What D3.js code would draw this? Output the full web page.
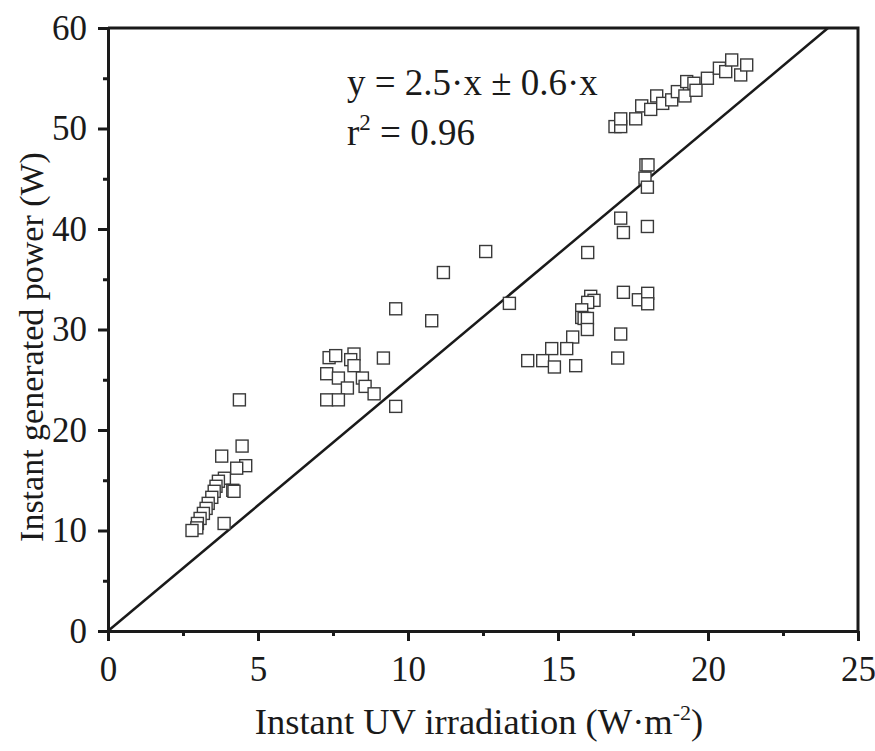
<!DOCTYPE html>
<html>
<head>
<meta charset="utf-8">
<script src="https://cdn.jsdelivr.net/npm/d3@7"></script>
<style>
  body { margin: 0; background: #fff; }
  svg { display: block; font-family: "Liberation Serif", "Times New Roman", serif; }
</style>
</head>
<body>
<div id="chart"></div>
<script>
// UV irradiation (W/m2) vs generated power (W)
const uvX = [
  4.38, 4.47, 3.79, 4.59, 4.29, 3.88, 3.68, 3.6, 4.16, 4.2, 3.54, 3.46, 3.34, 3.27, 3.18, 3.07, 2.98, 2.96, 2.8, 3.87,
  12.59, 11.18, 9.59, 10.79, 7.37, 7.59, 8.2, 8.09, 8.2, 9.18, 7.29, 7.68, 8.48, 7.98, 8.57, 8.87, 7.29, 7.68, 9.59,
  13.38, 15.99, 16.09, 16.2, 15.99, 15.79, 15.79, 15.87, 15.98, 15.98, 17.18, 17.68, 17.99, 17.99, 17.09, 15.49, 14.79, 15.29, 13.99, 14.49, 14.88, 15.59, 16.99,
  17.93, 18.0, 17.9, 17.98, 17.09, 17.18, 17.98,
  16.9, 17.09, 17.09, 17.59, 17.79, 18.09, 18.29, 18.49, 18.79, 18.98, 19.23, 19.29, 19.53, 19.6, 19.98, 20.38, 20.59, 20.79, 21.09, 21.29
];
const powerY = [
  23.0, 18.4, 17.4, 16.45, 16.2, 15.2, 14.9, 14.4, 14.0, 13.9, 13.9, 13.3, 12.7, 12.2, 11.7, 11.2, 10.7, 10.26, 10.0, 10.7,
  37.76, 35.67, 32.06, 30.87, 27.2, 27.4, 27.56, 27.0, 26.4, 27.16, 25.6, 25.17, 25.17, 24.18, 24.34, 23.6, 23.0, 23.0, 22.35,
  32.6, 37.66, 33.3, 32.9, 32.7, 31.96, 31.2, 31.1, 31.1, 30.0, 33.7, 32.96, 33.6, 32.56, 29.55, 29.25, 28.1, 28.1, 26.9, 26.9, 26.27, 26.4, 27.16,
  46.38, 46.38, 45.06, 44.16, 41.08, 39.65, 40.25,
  50.19, 50.19, 50.96, 50.96, 52.25, 51.9, 53.24, 52.5, 52.85, 53.67, 53.24, 54.67, 54.5, 53.8, 55.0, 56.0, 55.66, 56.82, 55.33, 56.32
];
const xTicks = [0, 5, 10, 15, 20, 25];
const xMinor = [2.5, 7.5, 12.5, 17.5, 22.5];
const yTicks = [0, 10, 20, 30, 40, 50, 60];
const yMinor = [5, 15, 25, 35, 45, 55];
const fitSlope = 2.5;

const width = 875, height = 751;
const margin = { top: 28, right: 17, bottom: 120, left: 108 };
const fs = 34;

const svg = d3.select("#chart").append("svg")
  .attr("width", width)
  .attr("height", height);

const x = d3.scaleLinear().domain([0, 25]).range([margin.left, width - margin.right]);
const y = d3.scaleLinear().domain([0, 60]).range([height - margin.bottom, margin.top]);

// frame top + right
svg.append("path")
  .attr("d", `M${x(0)},${y(60)}H${x(25)}V${y(0)}`)
  .attr("fill", "none")
  .attr("stroke", "#1a1a1a")
  .attr("stroke-width", 3);

// fit line y = 2.5x, clipped at top
svg.append("line")
  .attr("x1", x(0)).attr("y1", y(0))
  .attr("x2", x(60 / fitSlope)).attr("y2", y(60))
  .attr("stroke", "#1a1a1a")
  .attr("stroke-width", 2.5);

// points
svg.append("g")
  .selectAll("rect")
  .data(uvX.map((v, i) => [v, powerY[i]]))
  .join("rect")
  .attr("x", d => x(d[0]) - 6)
  .attr("y", d => y(d[1]) - 6)
  .attr("width", 12)
  .attr("height", 12)
  .attr("fill", "#fff")
  .attr("stroke", "#3a3a3a")
  .attr("stroke-width", 1.4);

// axes
svg.append("g")
  .attr("transform", `translate(0,${y(0)})`)
  .call(d3.axisBottom(x).tickValues(xTicks).tickSize(10).tickSizeOuter(0).tickPadding(15));
svg.append("g")
  .attr("transform", `translate(0,${y(0)})`)
  .call(d3.axisBottom(x).tickValues(xMinor).tickSize(5).tickSizeOuter(0).tickFormat(""));

svg.append("g")
  .attr("transform", `translate(${x(0)},0)`)
  .call(d3.axisLeft(y).tickValues(yTicks).tickSize(10).tickSizeOuter(0).tickPadding(11));
svg.append("g")
  .attr("transform", `translate(${x(0)},0)`)
  .call(d3.axisLeft(y).tickValues(yMinor).tickSize(5).tickSizeOuter(0).tickFormat(""));

svg.selectAll(".domain").attr("stroke", "#1a1a1a").attr("stroke-width", 3);
svg.selectAll(".tick line").attr("stroke", "#1a1a1a").attr("stroke-width", 3);
svg.selectAll(".tick text")
  .attr("font-family", "Liberation Serif")
  .attr("font-size", 35)
  .attr("fill", "#1a1a1a");

// equation annotation
const ann = svg.append("g").attr("font-size", 37).attr("fill", "#1a1a1a");
ann.append("text").attr("x", 347).attr("y", 95).text("y = 2.5·x ± 0.6·x");
const r2 = ann.append("text").attr("x", 347).attr("y", 145);
r2.append("tspan").text("r");
r2.append("tspan").attr("font-size", 23).attr("dy", -15).text("2");
r2.append("tspan").attr("dy", 15).text(" = 0.96");

// axis titles
const xt = svg.append("text")
  .attr("x", 479).attr("y", 734)
  .attr("text-anchor", "middle")
  .attr("font-size", 36.5)
  .attr("fill", "#1a1a1a");
xt.append("tspan").text("Instant UV irradiation (W·m");
xt.append("tspan").attr("font-size", 22).attr("dy", -14).text("-2");
xt.append("tspan").attr("dy", 14).text(")");

svg.append("text")
  .attr("transform", "translate(43,347) rotate(-90)")
  .attr("text-anchor", "middle")
  .attr("font-size", fs)
  .attr("fill", "#1a1a1a")
  .text("Instant generated power (W)");
</script>
</body>
</html>
